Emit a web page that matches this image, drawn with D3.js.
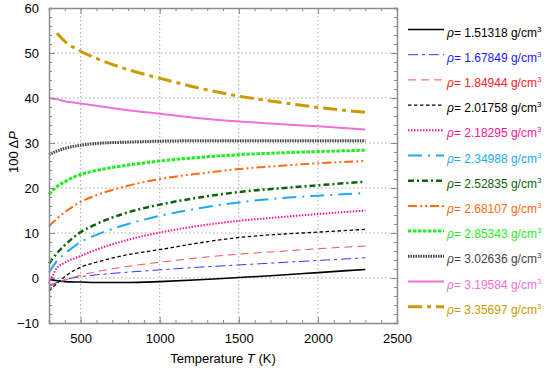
<!DOCTYPE html>
<html lang="en">
<head>
<meta charset="UTF-8">
<title>Pressure vs temperature</title>
<script src="https://d3js.org/d3.v7.min.js"></script>
<style>
  body { margin: 0; background: #fff; }
  text { font-family: "Liberation Sans", Arial, sans-serif; }
</style>
</head>
<body>
<div id="chart"></div>
<script>
// temperatures (K) at which the curves were read
const temps = [300, 350, 400, 500, 600, 800, 1000, 1250, 1500, 1750, 2000, 2300];

const densities = ["1.51318", "1.67849", "1.84944", "2.01758", "2.18295", "2.34988",
                   "2.52835", "2.68107", "2.85343", "3.02636", "3.19584", "3.35697"];

const s1 = [-0.3, -0.6, -0.8, -0.9, -1.0, -1.0, -0.8, -0.4, 0.1, 0.6, 1.2, 1.9];
const s2 = [-1.6, -1.0, -0.4, 0.3, 0.7, 1.3, 1.8, 2.4, 2.9, 3.4, 3.9, 4.5];
const s3 = [-1.8, -1.3, -0.5, 0.6, 1.4, 2.6, 3.5, 4.5, 5.3, 5.9, 6.5, 7.1];
const s4 = [-2.9, -1.2, 0.3, 2.4, 3.5, 5.2, 6.3, 7.8, 9.0, 9.7, 10.2, 10.8];
const s5 = [-1.2, 2.2, 3.4, 4.9, 6.3, 8.5, 10.1, 11.6, 12.7, 13.5, 14.2, 15.0];
const s6 = [1.2, 3.8, 5.4, 8.0, 9.6, 12.0, 13.8, 15.5, 16.8, 17.7, 18.3, 18.9];
const s7 = [3.2, 5.5, 7.3, 10.2, 12.0, 14.6, 16.3, 17.9, 19.1, 19.9, 20.6, 21.4];
const s8 = [11.5, 13.2, 14.6, 16.9, 18.4, 20.5, 22.0, 23.2, 24.2, 24.9, 25.5, 26.0];
const s9 = [18.6, 20.3, 21.4, 23.0, 23.9, 25.1, 26.0, 26.8, 27.4, 27.8, 28.1, 28.4];
const s10 = [27.4, 28.2, 28.8, 29.5, 29.9, 30.2, 30.4, 30.5, 30.5, 30.5, 30.5, 30.5];
const s11 = [40.0, 39.7, 39.3, 38.8, 38.3, 37.3, 36.5, 35.5, 34.8, 34.2, 33.7, 33.0];
const s12 = [null, 54.4, 52.6, 50.4, 48.8, 46.3, 44.4, 42.2, 40.4, 39.1, 37.9, 36.8];

const seriesValues = [s1, s2, s3, s4, s5, s6, s7, s8, s9, s10, s11, s12];

const xTicks = [500, 1000, 1500, 2000, 2500];
const yTicks = [-10, 0, 10, 20, 30, 40, 50, 60];

// line styles per series
const styles = [
  { color: "#000000", text: "#000000", width: 1.6, dash: null },
  { color: "#3333ff", text: "#1a1aff", width: 1.0, dash: "10,4,3,4" },
  { color: "#ff5050", text: "#ff2020", width: 1.0, dash: "8,5" },
  { color: "#000000", text: "#000000", width: 1.3, dash: "3.5,2.5" },
  { color: "#ff1493", text: "#ff1493", width: 2.0, dash: "1.5,1.5" },
  { color: "#1eaaf0", text: "#1eaaf0", width: 2.0, dash: "14,6,2,6" },
  { color: "#0a640a", text: "#0a640a", width: 2.5, dash: "6,3,2,3" },
  { color: "#ff6a10", text: "#ff6a10", width: 2.0, dash: "9,3,2,3,2,3" },
  { color: "#22ee22", text: "#22ee22", width: 3.0, dash: "3.5,1.5" },
  { color: "#444444", text: "#444444", width: 3.0, dash: "1.5,1" },
  { color: "#f070d8", text: "#f070d8", width: 2.0, dash: null },
  { color: "#cc9900", text: "#cc9900", width: 3.0, dash: "14,5,4,5" }
];

const W = 550, H = 370;
const margin = { top: 8, right: 153, bottom: 47, left: 49 };
const width = W - margin.left - margin.right;
const height = H - margin.top - margin.bottom;

const svg = d3.select("#chart").append("svg")
  .attr("width", W).attr("height", H);

const g = svg.append("g")
  .attr("transform", `translate(${margin.left},${margin.top})`);

const x = d3.scaleLinear().domain([300, 2500]).range([0, width]);
const y = d3.scaleLinear().domain([-10, 60]).range([height, 0]);

// grid
g.append("g").selectAll("line").data([500, 1000, 1500, 2000]).join("line")
  .attr("x1", d => x(d)).attr("x2", d => x(d))
  .attr("y1", 0).attr("y2", height)
  .attr("stroke", "#a8a8a8").attr("stroke-width", 1).attr("stroke-dasharray", "1.5,2.5");
g.append("g").selectAll("line").data([0, 10, 20, 30, 40, 50]).join("line")
  .attr("x1", 0).attr("x2", width)
  .attr("y1", d => y(d)).attr("y2", d => y(d))
  .attr("stroke", "#a8a8a8").attr("stroke-width", 1).attr("stroke-dasharray", "1.5,2.5");

// curves
const line = d3.line()
  .defined(d => d.v !== null)
  .x(d => x(d.t)).y(d => y(d.v))
  .curve(d3.curveMonotoneX);

seriesValues.forEach((vals, i) => {
  const pts = temps.map((t, j) => ({ t: t, v: vals[j] }));
  const st = styles[i];
  g.append("path")
    .attr("d", line(pts))
    .attr("fill", "none")
    .attr("stroke", st.color)
    .attr("stroke-width", st.width)
    .attr("stroke-dasharray", st.dash);
});

// axes (ticks inside on all four sides)
const minorX = d3.range(300, 2501, 100);
const minorY = d3.range(-10, 61, 2);
const axisColor = "#8c8c8c";

g.append("g").attr("transform", `translate(0,${height})`)
  .call(d3.axisBottom(x).tickValues(minorX).tickSize(-3).tickFormat(""));
g.append("g")
  .call(d3.axisTop(x).tickValues(minorX).tickSize(-3).tickFormat(""));
g.append("g")
  .call(d3.axisLeft(y).tickValues(minorY).tickSize(-3).tickFormat(""));
g.append("g").attr("transform", `translate(${width},0)`)
  .call(d3.axisRight(y).tickValues(minorY).tickSize(-3).tickFormat(""));

g.append("g").attr("transform", `translate(0,${height})`)
  .call(d3.axisBottom(x).tickValues(xTicks).tickSize(-6).tickPadding(11).tickFormat(d3.format("d")))
  .call(a => a.select(".domain").remove());
g.append("g")
  .call(d3.axisTop(x).tickValues(xTicks).tickSize(-6).tickFormat(""))
  .call(a => a.select(".domain").remove());
g.append("g")
  .call(d3.axisLeft(y).tickValues(yTicks).tickSize(-6).tickPadding(10).tickFormat(d3.format("d")))
  .call(a => a.select(".domain").remove());
g.append("g").attr("transform", `translate(${width},0)`)
  .call(d3.axisRight(y).tickValues(yTicks).tickSize(-6).tickFormat(""))
  .call(a => a.select(".domain").remove());

g.selectAll(".tick line").attr("stroke", axisColor);
g.selectAll(".domain").attr("stroke", axisColor).attr("stroke-width", 1.5);
g.selectAll(".tick text").attr("fill", "#000").style("font-size", "13px")
  .style("font-family", "'Liberation Sans', Arial, sans-serif");

// axis labels
const xl = svg.append("text")
  .attr("x", margin.left + width / 2).attr("y", 363)
  .attr("text-anchor", "middle").style("font-size", "13px");
xl.append("tspan").text("Temperature ");
xl.append("tspan").attr("font-style", "italic").text("T");
xl.append("tspan").text(" (K)");

const yl = svg.append("text")
  .attr("transform", "translate(18,152) rotate(-90)")
  .attr("text-anchor", "middle").style("font-size", "13px");
yl.append("tspan").text("100 \u0394");
yl.append("tspan").attr("font-style", "italic").text("P");

// legend
const legend = svg.append("g");
densities.forEach((d, i) => {
  const st = styles[i];
  const ly = 29.5 + i * 25.2;
  legend.append("line")
    .attr("x1", 408).attr("x2", 444).attr("y1", ly).attr("y2", ly)
    .attr("stroke", st.color).attr("stroke-width", st.width)
    .attr("stroke-dasharray", st.dash);
  const t = legend.append("text")
    .attr("x", 447).attr("y", ly + 7)
    .attr("fill", st.text).style("font-size", "12px");
  t.append("tspan").attr("font-style", "italic").text("\u03C1");
  t.append("tspan").text("= " + d + " g/cm");
  t.append("tspan").attr("dy", -5).style("font-size", "8px").text("3");
});
</script>
</body>
</html>
